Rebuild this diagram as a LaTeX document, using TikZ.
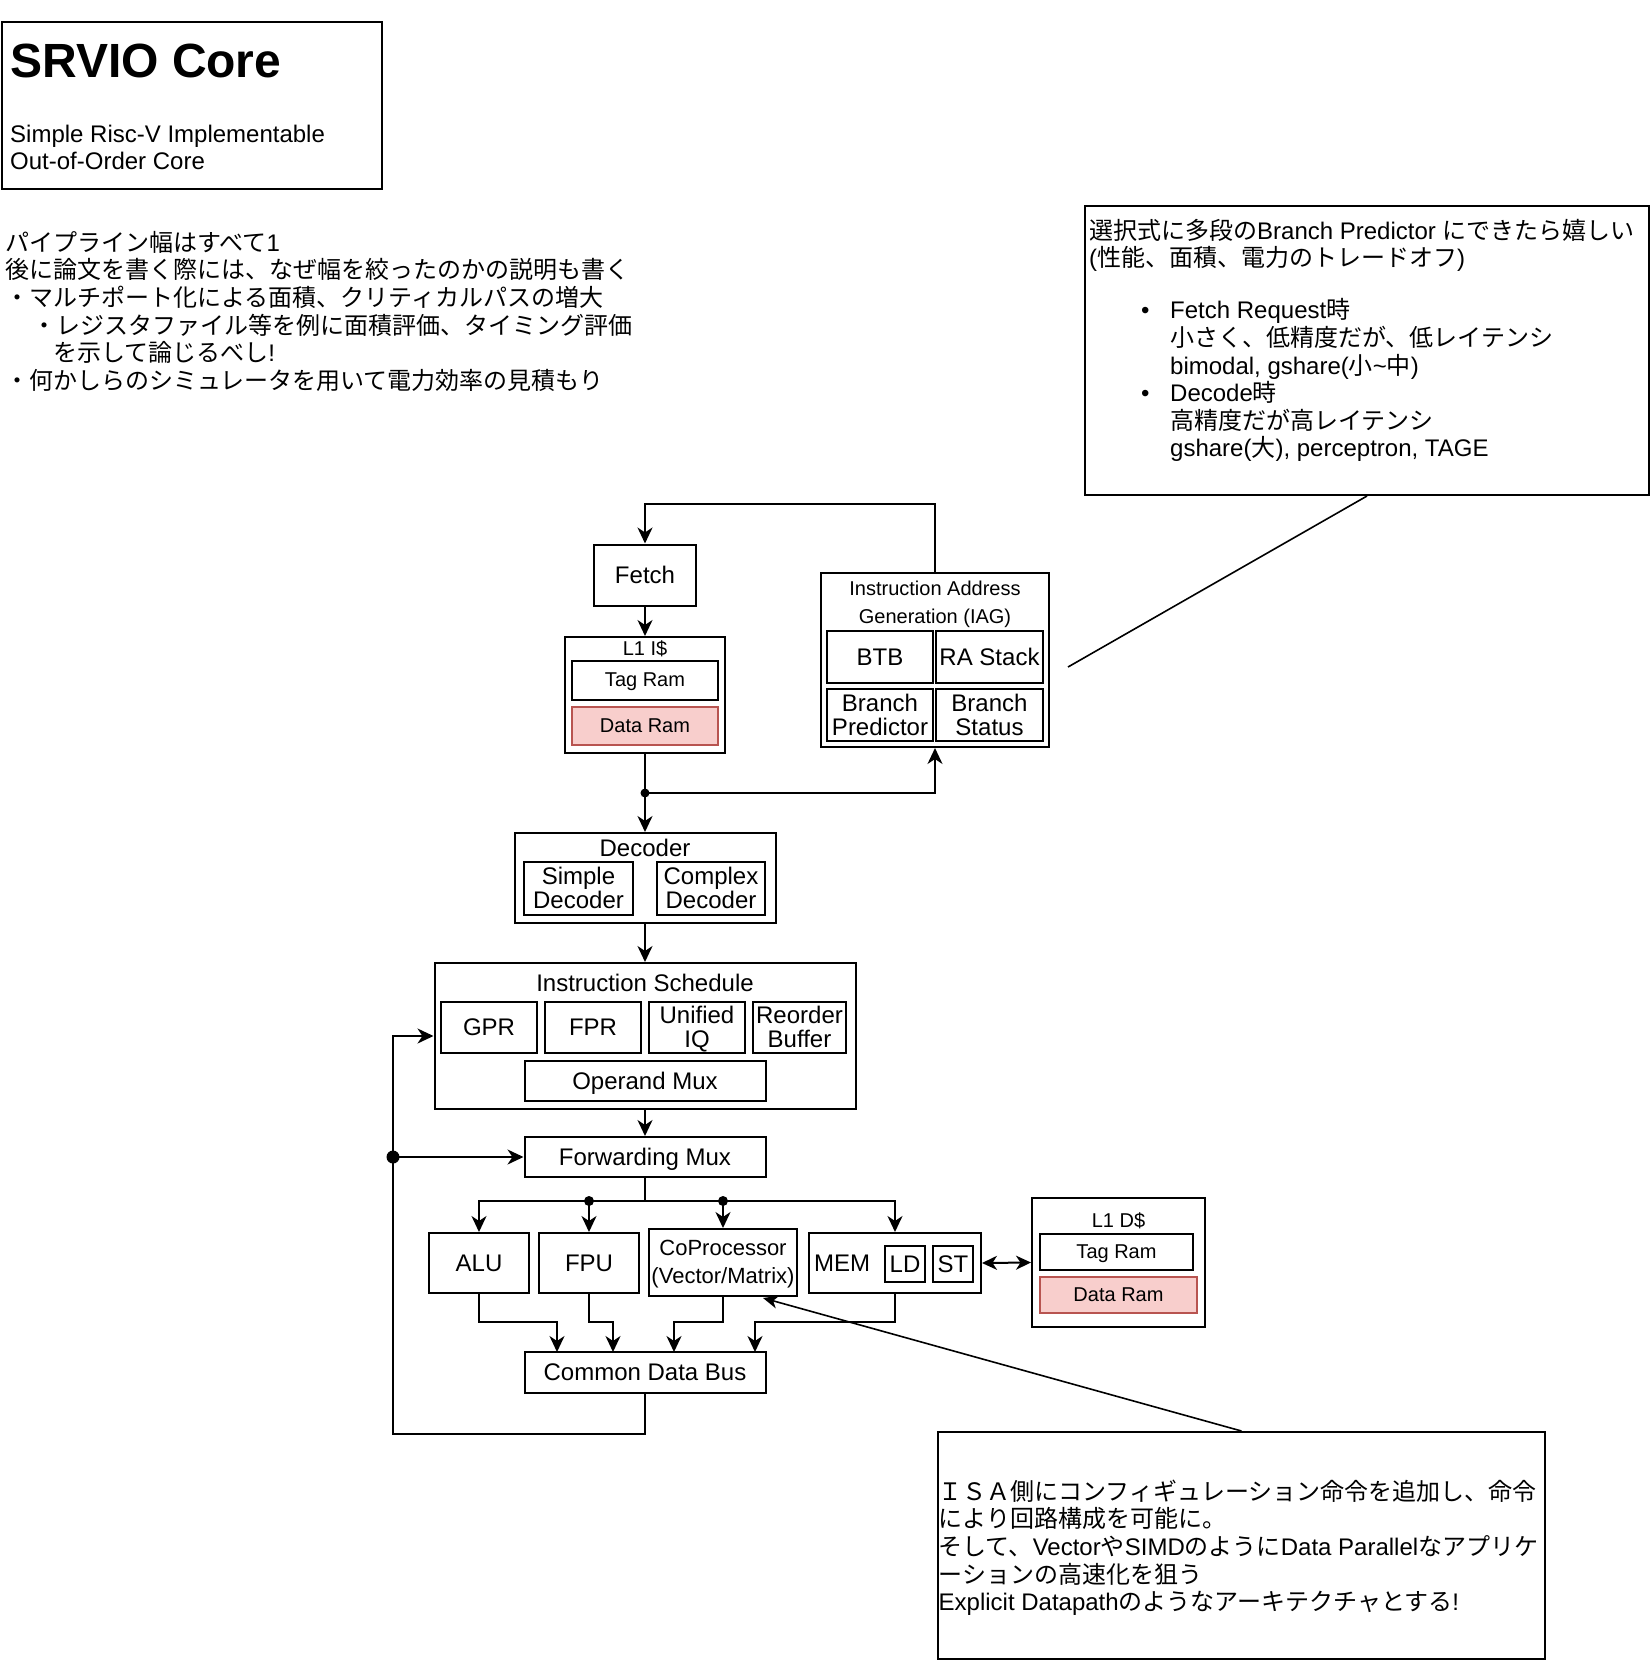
\documentclass[tikz,border=0pt]{standalone}
\usepackage{fontspec}
\setmainfont{Liberation Sans}
\newfontfamily\jp{Noto Sans CJK JP}
\usetikzlibrary{arrows.meta}
\newcommand\fA{\fontsize{24pt}{27.6pt}\selectfont}
\newcommand\fB{\fontsize{20pt}{28pt}\selectfont}
\newcommand\fC{\fontsize{22pt}{28pt}\selectfont}
\newcommand\fT{\fontsize{24pt}{24pt}\selectfont}
\newcommand\stb{\rule[-0.23em]{0pt}{1.135em}}
\newcommand\stt{\rule{0pt}{0.905em}}
\newcommand\stl{\rule[-0.23em]{0pt}{0.23em}}
\definecolor{ramfill}{HTML}{F8CECC}
\definecolor{ramdraw}{HTML}{B85450}
\tikzset{
  box/.style={draw, line width=2pt, inner sep=0pt, align=center, font=\fA},
  tbox/.style={box, font=\fT},
  ram/.style={box, fill=ramfill, draw=ramdraw, font=\fB},
  sram/.style={box, font=\fB},
  lbl/.style={inner sep=0pt, align=center},
  para/.style={anchor=north west, inner sep=0pt, align=left, font=\fA},
  arr/.style={line width=2pt, -{Stealth[length=16pt,width=15pt,inset=5pt]}},
  biarr/.style={line width=2pt, {Stealth[length=15pt,width=14pt,inset=4.5pt]}-{Stealth[length=15pt,width=14pt,inset=4.5pt]}},
  wire/.style={line width=2pt},
  note/.style={line width=1.6pt},
  carr/.style={line width=1.6pt, -{Stealth[length=15pt,width=13pt,inset=4.5pt]}}
}
\begin{document}
\begin{tikzpicture}[x=1pt, y=-1pt]
\useasboundingbox (0,0) rectangle (1650,1660);

% ---------- title ----------
\node[draw, line width=2pt, anchor=north west, minimum width=380pt, minimum height=167pt, inner sep=0pt] (titlebox) at (1,21) {};
\node[anchor=base west, inner sep=0pt, font=\fontsize{48pt}{55pt}\selectfont\bfseries] (ttl) at (10,77) {SRVIO Core};
\node[para] (sub) at (10,120.3) {\stt Simple Risc-V Implementable\\Out-of-Order Core};

% ---------- notes ----------
\node[para] (notes) at (5,229.3) {%
\stt{\jp パイプライン幅はすべて}1\\
{\jp 後に論文を書く際には、なぜ幅を絞ったのかの説明も書く}\\
{\jp ・マルチポート化による面積、クリティカルパスの増大}\\
\hspace*{27pt}{\jp ・レジスタファイル等を例に面積評価、タイミング評価}\\
\hspace*{48pt}{\jp を示して論じるべし}!\\
{\jp ・何かしらのシミュレータを用いて電力効率の見積もり}};

% ---------- right callout ----------
\node[draw, line width=2pt, anchor=north west, minimum width=564pt, minimum height=289pt, inner sep=0pt] (rc) at (1084,205) {};
\node[para] (rctext) at (1089,217.3) {%
\stt{\jp 選択式に多段の}Branch Predictor {\jp にできたら嬉しい}\\
({\jp 性能、面積、電力のトレードオフ})\\[24.5pt]
\hspace*{52pt}\makebox[29pt][l]{•}Fetch Request{\jp 時}\\
\hspace*{81pt}{\jp 小さく、低精度だが、低レイテンシ}\\
\hspace*{81pt}bimodal, gshare({\jp 小}\textasciitilde{\jp 中})\\
\hspace*{52pt}\makebox[29pt][l]{•}Decode{\jp 時}\\
\hspace*{81pt}{\jp 高精度だが高レイテンシ}\\
\hspace*{81pt}gshare({\jp 大}), perceptron, TAGE};
\coordinate (cl1) at (1068,667);
\draw[note] (rc.south) -- (cl1);

% ---------- bottom callout ----------
\node[draw, line width=2pt, anchor=north west, minimum width=607pt, minimum height=227pt, inner sep=0pt] (bc) at (937,1431) {};
\node[para] (bctext) at (938.5,1478.3) {%
\stt{\jp ＩＳＡ側にコンフィギュレーション命令を追加し、命令}\\
{\jp により回路構成を可能に。}\\
{\jp そして、}Vector{\jp や}SIMD{\jp のように}Data Parallel{\jp なアプリケ}\\
{\jp ーションの高速化を狙う}\\
Explicit Datapath{\jp のようなアーキテクチャとする}!};

% ---------- fetch / L1 I$ ----------
\node[box, minimum width=102pt, minimum height=61pt] (fetch) at (645,575) {\stb Fetch};
\node[box, minimum width=160pt, minimum height=116pt] (l1i) at (645,695) {};
\node[lbl, font=\fB] (l1ilbl) at (645,649) {\stb L1 I\$};
\node[sram, minimum width=146pt, minimum height=39pt] (itag) at (645,680) {\stb Tag Ram};
\node[ram, minimum width=146pt, minimum height=38pt] (idat) at (645,725.5) {\stb Data Ram};

% ---------- IAG ----------
\node[box, minimum width=228pt, minimum height=174pt] (iag) at (935,660) {};
\node[lbl, font=\fB] (iaglbl) at (935,603) {\stt Instruction Address\\Generation (IAG)\stl};
\node[box, minimum width=106pt, minimum height=52pt] (btb) at (880,657) {\stb BTB};
\node[box, minimum width=107pt, minimum height=52pt] (ras) at (989.5,657) {\stb RA Stack};
\node[tbox, minimum width=106pt, minimum height=52pt] (bp) at (880,715) {\stt Branch\\Predictor\stl};
\node[tbox, minimum width=107pt, minimum height=52pt] (bs) at (989.5,715) {\stt Branch\\Status\stl};

% ---------- decoder ----------
\node[box, minimum width=261pt, minimum height=90pt] (dec) at (645,878) {};
\node[lbl, font=\fA] (declbl) at (645,848) {\stb Decoder};
\node[tbox, minimum width=109pt, minimum height=53pt] (sdec) at (578.5,888.5) {\stt Simple\\Decoder\stl};
\node[tbox, minimum width=108pt, minimum height=53pt] (cdec) at (711,888.5) {\stt Complex\\Decoder\stl};

% ---------- instruction schedule ----------
\node[box, minimum width=421pt, minimum height=146pt] (is) at (645,1036) {};
\node[lbl, font=\fA] (islbl) at (645,983.5) {\stb Instruction Schedule};
\node[box, minimum width=96pt, minimum height=51pt] (gpr) at (489,1027.5) {\stb GPR};
\node[box, minimum width=96pt, minimum height=51pt] (fpr) at (593,1027.5) {\stb FPR};
\node[tbox, minimum width=96pt, minimum height=51pt] (uiq) at (697,1027.5) {\stt Unified\\IQ\stl};
\node[tbox, minimum width=93pt, minimum height=51pt] (rob) at (799.5,1027.5) {\stt Reorder\\Buffer\stl};
\node[box, minimum width=241pt, minimum height=40pt] (opm) at (645,1081) {\stb Operand Mux};

\node[box, minimum width=241pt, minimum height=40pt] (fm) at (645,1157) {\stb Forwarding Mux};

% ---------- execution units ----------
\node[box, minimum width=100pt, minimum height=60pt] (alu) at (479,1263) {\stb ALU};
\node[box, minimum width=100pt, minimum height=60pt] (fpu) at (589,1263) {\stb FPU};
\node[box, font=\fC, minimum width=148pt, minimum height=67pt] (cop) at (723,1262.5) {\stt CoProcessor\\(Vector/Matrix)\stl};
\node[box, minimum width=172pt, minimum height=60pt] (mem) at (895,1263) {};
\node[lbl, font=\fA] (memlbl) at (842,1263) {\stb MEM};
\node[box, minimum width=40pt, minimum height=36pt] (ld) at (905,1264) {\stb LD};
\node[box, minimum width=40pt, minimum height=36pt] (st) at (953,1264) {\stb ST};

% ---------- L1 D$ ----------
\node[box, minimum width=173pt, minimum height=129pt] (l1d) at (1118.5,1262.5) {};
\node[lbl, font=\fB] (l1dlbl) at (1118.5,1220.5) {\stb L1 D\$};
\node[sram, minimum width=153pt, minimum height=36pt] (dtag) at (1116.5,1252) {\stb Tag Ram};
\node[ram, minimum width=157pt, minimum height=36pt] (ddat) at (1118.5,1295) {\stb Data Ram};

\node[box, minimum width=241pt, minimum height=41pt] (cdb) at (645,1372.5) {\stb Common Data Bus};

% ---------- connectors ----------
\draw[arr] (iag.north) -- ++(0,-68) -| (fetch.north);
\draw[arr] (fetch.south) -- (l1i.north);
\coordinate (j1) at (645,793);
\draw[wire] (l1i.south) -- (j1);
\draw[arr] (j1) -- (dec.north);
\draw[arr] (j1) -| (iag.south);
\fill (j1) circle[radius=4.5pt];

\draw[arr] (dec.south) -- (is.north);
\draw[arr] (is.south) -- (fm.north);

\coordinate (bus) at (645,1201);
\draw[wire] (fm.south) -- (bus);
\draw[arr] (bus) -| (alu.north);
\draw[arr] (bus) -| (mem.north);
\coordinate (bf) at (589,1201);
\coordinate (bc2) at (723,1201);
\draw[arr] (bf) -- (fpu.north);
\draw[arr] (bc2) -- (cop.north);
\fill (bf) circle[radius=5pt];
\fill (bc2) circle[radius=5pt];

\coordinate (cdb1) at (557,1352);
\coordinate (cdb2) at (613,1352);
\coordinate (cdb3) at (674,1352);
\coordinate (cdb4) at (755,1352);
\draw[arr] (alu.south) -- ++(0,28) -| (cdb1);
\draw[arr] (fpu.south) -- ++(0,28) -| (cdb2);
\draw[arr] (cop.south) -- ++(0,24.5) -| (cdb3);
\draw[arr] (mem.south) -- ++(0,28) -| (cdb4);

\coordinate (fb) at (393,1036);
\coordinate (fbd) at (393,1157);
\draw[arr] (cdb.south) -- ++(0,40) -| (fb) -- (is.west);
\draw[arr] (fbd) -- (fm.west);
\fill (fbd) circle[radius=6.5pt];

\draw[biarr] (mem.east) -- (l1d.west);

\coordinate (cl2) at (763,1298);
\draw[carr] (bc.north) -- (cl2);
\end{tikzpicture}
\end{document}
